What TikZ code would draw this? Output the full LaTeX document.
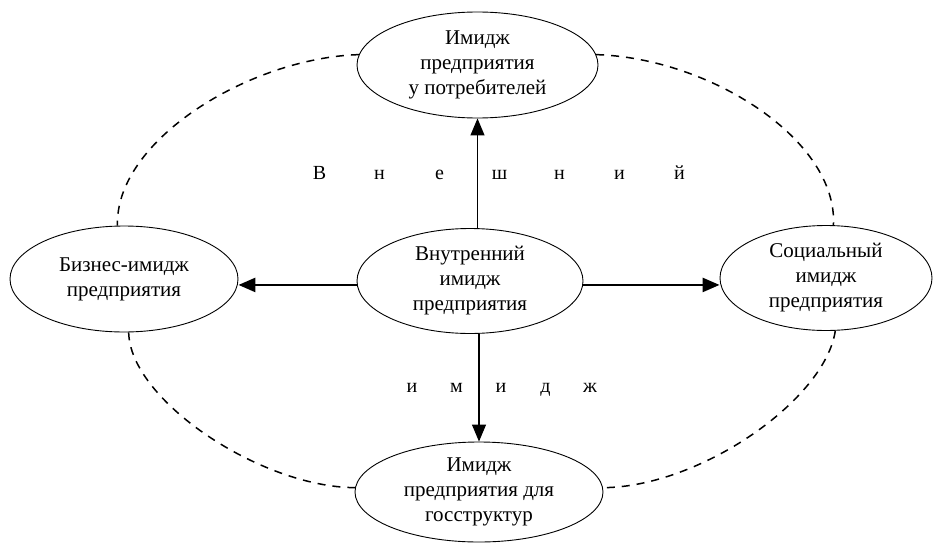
\documentclass[tikz,border=0pt]{standalone}
\usepackage{fontspec}
\setmainfont{Liberation Serif}
\usetikzlibrary{arrows.meta,shapes.geometric}

\newcommand{\cellA}[1]{\makebox[60pt]{#1}}
\newcommand{\cellB}[1]{\makebox[44.5pt]{#1}}

\tikzset{
  imgbox/.style={draw, line width=0.9pt, ellipse, inner sep=-9pt, align=center,
    font=\fontsize{21}{25}\selectfont},
  thinarrow/.style={line width=1.2pt, -{Triangle[length=17pt,width=14pt]}},
  thickarrow/.style={line width=2.6pt, -{Triangle[length=17pt,width=14pt]}},
  link/.style={line width=1.5pt, dash pattern=on 8pt off 7pt},
  spaced/.style={font=\fontsize{20}{22}\selectfont, inner sep=0pt}
}

\begin{document}
\begin{tikzpicture}[x=1pt, y=-1pt]
  \useasboundingbox (0,0) rectangle (933,543);

  % image kinds
  \node[imgbox, minimum width=241pt, minimum height=106pt] (t) at (477.5,65)
    {Имидж\\предприятия\\у потребителей};
  \node[imgbox, minimum width=228pt, minimum height=106pt] (l) at (124,279)
    {Бизнес-имидж\\предприятия};
  \node[imgbox, minimum width=226pt, minimum height=105pt] (c) at (470,281)
    {Внутренний\\имидж\\предприятия};
  \node[imgbox, minimum width=212pt, minimum height=105pt] (r) at (826,278)
    {Социальный\\имидж\\предприятия};
  \node[imgbox, minimum width=248pt, minimum height=100pt] (b) at (479,492)
    {Имидж\\предприятия для\\госструктур};

  % spread-out captions
  \node[spaced] (w1) at (499.5,173)
    {\cellA{В}\cellA{н}\cellA{е}\cellA{ш}\cellA{н}\cellA{и}\cellA{й}};
  \node[spaced] (w2) at (501,390)
    {\cellB{и}\cellB{м}\cellB{и}\cellB{д}\cellB{ж}};

  % arrows from the internal image
  \draw[thinarrow] (c.north -| t.south) -- (t.south);
  \draw[thinarrow] (c.south -| b.north) -- (b.north);
  \draw[thickarrow] (c.182) -- (c.182 -| l.east);
  \draw[thickarrow] (c.358) -- (c.358 -| r.west);

  % dashed links around the outside
  \draw[link] (t.175) .. controls (250,58) and (115,140) .. (l.97);
  \draw[link] (t.5) .. controls (710,58) and (838,140) .. (r.82);
  \draw[link] (l.275) .. controls (130,400) and (260,487) .. (b.178);
  \draw[link] (r.280) .. controls (825,400) and (700,487) .. (b.2);
\end{tikzpicture}
\end{document}
